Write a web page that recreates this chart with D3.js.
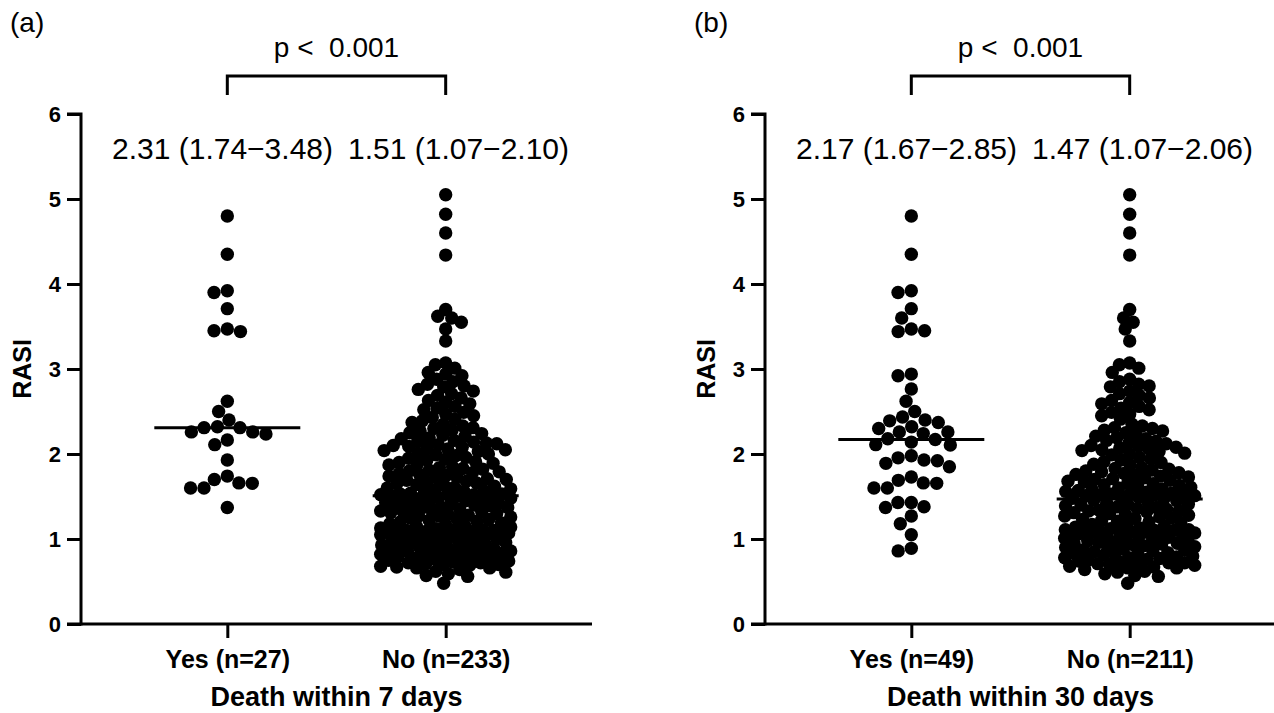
<!DOCTYPE html>
<html>
<head>
<meta charset="utf-8">
<script src="https://cdn.jsdelivr.net/npm/d3@7"></script>
<style>
  html, body { margin: 0; padding: 0; background: #fff; }
  text { font-family: "Liberation Sans", Arial, sans-serif; fill: #000; }
</style>
</head>
<body>
<svg id="chart" width="1274" height="713"></svg>
<script>
// ---------------- DATA ----------------
const panelLabels = ["(a)", "(b)"];
const axisTitles = ["Death within 7 days", "Death within 30 days"];
const categories7 = ["Yes (n=27)", "No (n=233)"];
const categories30 = ["Yes (n=49)", "No (n=211)"];
const yTicks = [0, 1, 2, 3, 4, 5, 6];
const pLabels = ["p <  0.001", "p <  0.001"];
const summary7 = ["2.31 (1.74\u22123.48)", "1.51 (1.07\u22122.10)"];
const summary30 = ["2.17 (1.67\u22122.85)", "1.47 (1.07\u22122.06)"];
const medians7 = [2.31, 1.51];
const medians30 = [2.17, 1.47];

const yes7 = [4.80, 4.35, 3.92, 3.90, 3.71, 3.47, 3.45, 3.44, 2.62, 2.50,
  2.40, 2.32, 2.31, 2.31, 2.26, 2.26, 2.235, 2.165, 2.11, 1.93,
  1.74, 1.66, 1.60, 1.655, 1.60, 1.70, 1.37];

const no7 = [5.05, 4.82, 4.60, 4.34, 3.70, 3.62, 3.60, 3.55, 3.47, 3.33,
  3.07, 3.05, 3.01, 2.96, 2.94, 2.92, 2.88, 2.85, 2.82, 2.80,
  2.79, 2.76, 2.74, 2.71, 2.69, 2.66, 2.63, 2.61, 2.59, 2.56,
  2.54, 2.52, 2.49, 2.47, 2.45, 2.43, 2.41, 2.39, 2.37, 2.35,
  2.33, 2.31, 2.30, 2.28, 2.27, 2.25, 2.24, 2.22, 2.21, 2.19,
  2.18, 2.16, 2.15, 2.14, 2.13, 2.12, 2.11, 2.10, 2.09, 2.08,
  2.07, 2.06, 2.05, 2.04, 2.03, 2.01, 2.00, 1.99, 1.98, 1.96,
  1.95, 1.94, 1.93, 1.91, 1.90, 1.89, 1.88, 1.87, 1.85, 1.84,
  1.83, 1.82, 1.81, 1.80, 1.79, 1.78, 1.77, 1.76, 1.75, 1.74,
  1.73, 1.72, 1.71, 1.70, 1.69, 1.68, 1.67, 1.66, 1.65, 1.64,
  1.63, 1.62, 1.61, 1.60, 1.59, 1.58, 1.57, 1.56, 1.55, 1.54,
  1.53, 1.53, 1.52, 1.52, 1.52, 1.51, 1.51, 1.50, 1.49, 1.48,
  1.47, 1.46, 1.45, 1.45, 1.44, 1.43, 1.42, 1.41, 1.41, 1.40,
  1.39, 1.38, 1.37, 1.37, 1.36, 1.35, 1.34, 1.33, 1.33, 1.32,
  1.31, 1.30, 1.29, 1.28, 1.27, 1.27, 1.26, 1.25, 1.24, 1.23,
  1.22, 1.21, 1.20, 1.19, 1.18, 1.17, 1.16, 1.15, 1.14, 1.13,
  1.12, 1.11, 1.11, 1.10, 1.10, 1.09, 1.09, 1.08, 1.08, 1.08,
  1.08, 1.07, 1.07, 1.07, 1.07, 1.06, 1.05, 1.04, 1.03, 1.02,
  1.01, 1.00, 0.99, 0.99, 0.98, 0.97, 0.96, 0.95, 0.95, 0.94,
  0.93, 0.92, 0.91, 0.91, 0.90, 0.89, 0.88, 0.87, 0.87, 0.86,
  0.85, 0.84, 0.83, 0.83, 0.82, 0.81, 0.80, 0.79, 0.78, 0.77,
  0.76, 0.75, 0.74, 0.73, 0.72, 0.71, 0.70, 0.69, 0.68, 0.67,
  0.86, 0.78, 0.72, 0.70, 0.66, 0.64, 0.61, 0.59, 0.57, 0.56,
  0.66, 0.62, 0.48];

const yes30 = [4.80, 4.35, 3.92, 3.90, 3.71, 3.60, 3.45, 3.47, 3.44,
  2.92, 2.94, 2.765, 2.62, 2.50, 2.435, 2.39, 2.40, 2.37,
  2.30, 2.32, 2.26, 2.26, 2.24, 2.18, 2.17, 2.14, 2.105, 2.11,
  1.98, 1.955, 1.92, 1.89, 1.93, 1.85,
  1.73, 1.69, 1.655, 1.66, 1.60, 1.60,
  1.43, 1.43, 1.37, 1.38, 1.27, 1.18, 1.05, 0.89, 0.86];

const no30 = [5.05, 4.82, 4.60, 4.34, 3.70, 3.60, 3.55, 3.47, 3.33,
  3.07, 3.05, 3.01, 2.96, 2.88, 2.85, 2.82, 2.80,
  2.79, 2.74, 2.71, 2.69, 2.66, 2.63, 2.61, 2.59, 2.56,
  2.54, 2.52, 2.49, 2.47, 2.45, 2.41, 2.35,
  2.33, 2.31, 2.30, 2.28, 2.27, 2.25, 2.22, 2.21, 2.19,
  2.18, 2.16, 2.15, 2.13, 2.12, 2.10, 2.09, 2.08,
  2.07, 2.06, 2.05, 2.04, 2.03, 2.01, 2.00, 1.99, 1.96,
  1.94, 1.93, 1.91, 1.90, 1.88, 1.87, 1.84,
  1.83, 1.82, 1.81, 1.80, 1.79, 1.78, 1.77, 1.76, 1.75, 1.74,
  1.73, 1.72, 1.71, 1.70, 1.69, 1.68, 1.67, 1.66, 1.65, 1.64,
  1.63, 1.62, 1.61, 1.60, 1.59, 1.58, 1.57, 1.56, 1.55, 1.54,
  1.53, 1.53, 1.52, 1.52, 1.52, 1.51, 1.51, 1.50, 1.49, 1.48,
  1.47, 1.46, 1.45, 1.44, 1.42, 1.41, 1.41, 1.40,
  1.39, 1.38, 1.37, 1.36, 1.35, 1.34, 1.33, 1.33, 1.32,
  1.31, 1.30, 1.29, 1.28, 1.27, 1.26, 1.25, 1.24, 1.23,
  1.22, 1.21, 1.20, 1.19, 1.17, 1.16, 1.15, 1.14, 1.13,
  1.12, 1.11, 1.11, 1.10, 1.10, 1.09, 1.09, 1.08, 1.08, 1.08,
  1.08, 1.07, 1.07, 1.07, 1.07, 1.06, 1.04, 1.03, 1.02,
  1.01, 1.00, 0.99, 0.99, 0.98, 0.97, 0.96, 0.95, 0.95, 0.94,
  0.93, 0.92, 0.91, 0.91, 0.90, 0.88, 0.87, 0.87,
  0.85, 0.84, 0.83, 0.83, 0.82, 0.81, 0.80, 0.79, 0.78, 0.77,
  0.76, 0.75, 0.74, 0.73, 0.72, 0.71, 0.70, 0.69, 0.68, 0.67,
  0.86, 0.78, 0.72, 0.70, 0.66, 0.64, 0.61, 0.59, 0.57, 0.56,
  0.66, 0.62, 0.48];

const panels = [
  { label: panelLabels[0], title: axisTitles[0], cats: categories7, groups: [yes7, no7], medians: medians7, summary: summary7, p: pLabels[0] },
  { label: panelLabels[1], title: axisTitles[1], cats: categories30, groups: [yes30, no30], medians: medians30, summary: summary30, p: pLabels[1] }
];

// ---------------- LAYOUT ----------------
const svg = d3.select("#chart");
const panelOffsets = [0, 684];
const axisLeft = 81, axisRight = 592, axisBottom = 624, axisTop = 114;
const R = 6.7, MAXOFF = 65, MEDHALF = 73;
const packFactor = [1.0, 0.78];   // minimum centre distance / diameter (Yes, No)

const y = d3.scaleLinear().domain([0, 6]).range([axisBottom, axisTop]);

function swarm(vals, r, maxOff, factor) {
  const d = 2 * r * factor;
  const pts = vals.map(v => ({ v, y: y(v) })).sort((a, b) => a.y - b.y);
  const placed = [];
  for (const p of pts) {
    const nb = placed.filter(q => Math.abs(q.y - p.y) < d);
    let cands = [0];
    for (const q of nb) {
      const dx = Math.sqrt(d * d - (q.y - p.y) ** 2);
      cands.push(q.x - dx, q.x + dx);
    }
    cands = cands.filter(c => Math.abs(c) <= maxOff + 1e-6)
                 .sort((a, b) => Math.abs(a) - Math.abs(b) || a - b);
    let best = null;
    for (const c of cands) {
      if (nb.every(q => (q.x - c) ** 2 + (q.y - p.y) ** 2 >= d * d - 1e-6)) { best = c; break; }
    }
    if (best === null) {
      let bs = -1;
      for (let c = -maxOff; c <= maxOff; c += 1) {
        let m = Infinity;
        for (const q of nb) {
          const dd = (q.x - c) ** 2 + (q.y - p.y) ** 2;
          if (dd < m) m = dd;
        }
        if (m > bs) { bs = m; best = c; }
      }
    }
    p.x = best;
    placed.push(p);
  }
  return pts;
}

const FONT = '"Liberation Sans", Arial, sans-serif';

panels.forEach((P, i) => {
  const g = svg.append("g").attr("transform", `translate(${panelOffsets[i]},0)`);
  const x = d3.scalePoint().domain(P.cats).range([axisLeft, axisRight]).padding(0.67);

  // Y axis
  const yAxis = d3.axisLeft(y).tickValues(yTicks).tickSize(14).tickPadding(6).tickFormat(d3.format("d"));
  const ya = g.append("g").attr("transform", `translate(${axisLeft},0)`).call(yAxis);
  ya.select(".domain").attr("d", `M-14,${axisTop}H0V${axisBottom}H-14`).attr("stroke", "#000").attr("stroke-width", 3).attr("fill", "none");
  ya.selectAll(".tick line").attr("stroke", "#000").attr("stroke-width", 3);
  ya.selectAll(".tick text").attr("font-size", 22).attr("font-weight", "bold")
    .attr("font-family", FONT).attr("fill", "#000");

  // X axis
  const xAxis = d3.axisBottom(x).tickSize(14).tickPadding(12);
  const xa = g.append("g").attr("transform", `translate(0,${axisBottom})`).call(xAxis);
  xa.select(".domain").attr("d", `M${axisLeft},0H${axisRight}`).attr("stroke", "#000").attr("stroke-width", 3);
  xa.selectAll(".tick line").attr("stroke", "#000").attr("stroke-width", 3);
  xa.selectAll(".tick text").attr("font-size", 25).attr("font-weight", "bold")
    .attr("font-family", FONT).attr("fill", "#000")
    .attr("dy", null).attr("y", 44);

  // Axis titles
  g.append("text").attr("x", (x(P.cats[0]) + x(P.cats[1])) / 2).attr("y", 706)
    .attr("text-anchor", "middle").attr("font-size", 27).attr("font-weight", "bold").text(P.title);
  g.append("text").attr("transform", `translate(31,${(axisTop + axisBottom) / 2}) rotate(-90)`)
    .attr("text-anchor", "middle").attr("font-size", 25).attr("font-weight", "bold").text("RASI");

  // Panel label
  g.append("text").attr("x", 10).attr("y", 32).attr("font-size", 28).text(P.label);

  // Dots
  P.groups.forEach((vals, k) => {
    const cx = x(P.cats[k]);
    const pts = swarm(vals, R, MAXOFF, packFactor[k]);
    g.append("g").selectAll("circle").data(pts).join("circle")
      .attr("cx", d => cx + d.x).attr("cy", d => d.y).attr("r", R).attr("fill", "#000");
    g.append("line").attr("x1", cx - MEDHALF).attr("x2", cx + MEDHALF)
      .attr("y1", y(P.medians[k])).attr("y2", y(P.medians[k]))
      .attr("stroke", "#000").attr("stroke-width", 3);
  });

  // Bracket
  const x0 = x(P.cats[0]), x1 = x(P.cats[1]);
  g.append("path").attr("d", `M${x0},95V76H${x1}V95`).attr("fill", "none")
    .attr("stroke", "#000").attr("stroke-width", 3);
  g.append("text").attr("x", (x0 + x1) / 2).attr("y", 57).attr("text-anchor", "middle")
    .attr("font-size", 28).style("white-space", "pre").text(P.p);

  // Summary labels
  const t1 = g.append("text").attr("x", 112).attr("y", 159).attr("font-size", 30).text(P.summary[0]);
  const w1 = t1.node().getComputedTextLength();
  g.append("text").attr("x", 112 + w1 + 15).attr("y", 159).attr("font-size", 30).text(P.summary[1]);
});
</script>
</body>
</html>
